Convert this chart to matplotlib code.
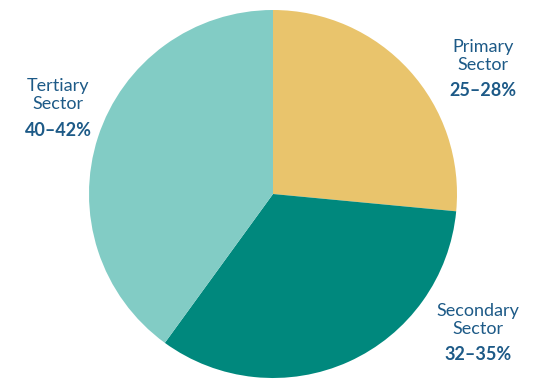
import matplotlib
matplotlib.use("Agg")
import matplotlib.pyplot as plt

sectors = ["Primary\nSector", "Secondary\nSector", "Tertiary\nSector"]
shares = [26.5, 33.5, 40.0]
ranges = ["25–28%", "32–35%", "40–42%"]
colors = ["#E9C46C", "#00887D", "#82CCC5"]

fig = plt.figure(figsize=(5.56, 3.88), dpi=100)
ax = fig.add_axes([0, 0, 1, 1])

ax.pie(shares, colors=colors, startangle=90, counterclock=False,
       center=(273, 194), radius=184, frame=True)
ax.set_xlim(0, 556)
ax.set_ylim(0, 388)
ax.set_aspect("equal")
ax.axis("off")

label_pos = [(483, 332), (478, 68), (58, 293)]
txt_color = "#1D5A87"
for name, rng, (x, y) in zip(sectors, ranges, label_pos):
    ax.text(x, y, name, ha="center", va="center", fontsize=13,
            family="Lato", color=txt_color, linespacing=1.1)
    ax.text(x, y - 35, rng, ha="center", va="center", fontsize=13,
            family="Lato", fontweight="bold", color=txt_color)

fig.savefig("out.png", dpi=100)
